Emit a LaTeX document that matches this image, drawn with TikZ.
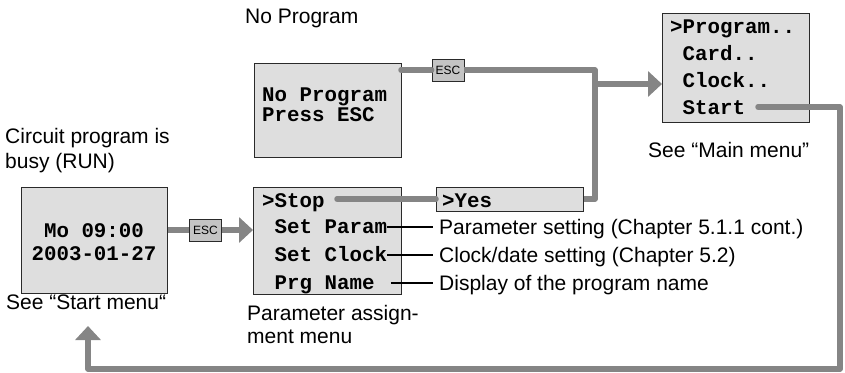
\documentclass[tikz,border=0pt]{standalone}
\usepackage{fontspec}
\setmainfont{Liberation Sans}
\setmonofont{Liberation Mono}
\usetikzlibrary{arrows.meta}
\definecolor{lcdfill}{HTML}{DEDEDE}
\definecolor{escfill}{HTML}{C4C4C4}
\definecolor{pipe}{HTML}{858585}
\definecolor{frame}{HTML}{2A2A2A}
\begin{document}
\begin{tikzpicture}[x=1pt,y=-1pt,
  lcdbox/.style={draw=frame, fill=lcdfill, line width=1pt, anchor=north west, inner sep=0pt},
  mono/.style={font=\fontsize{20.8}{24}\selectfont\ttfamily\bfseries, inner sep=0pt, anchor=base west},
  lbl/.style={font=\fontsize{21}{24}\selectfont, inner sep=0pt, anchor=base west},
  escbox/.style={draw=frame, fill=escfill, line width=0.8pt, minimum width=32pt, minimum height=22pt, inner sep=0pt, font=\fontsize{12}{12}\selectfont},
  gline/.style={draw=pipe, line width=5.5pt, line join=round},
  rcap/.style={line cap=round},
  garrow/.style={-{Triangle[width=25pt,length=14pt]}},
  thinline/.style={draw=black, line width=1.5pt}]
\useasboundingbox (0,0) rectangle (845,372);

% boxes
\node[lcdbox, minimum width=146pt, minimum height=106pt] (run) at (21,187) {};
\node[lcdbox, minimum width=147pt, minimum height=94pt] (nop) at (254,63) {};
\node[lcdbox, minimum width=148pt, minimum height=107pt] (par) at (253,187) {};
\node[lcdbox, minimum width=147pt, minimum height=24pt] (yes) at (436,187) {};
\node[lcdbox, minimum width=147pt, minimum height=109pt] (mm) at (662,13) {};
\node[escbox] (esc1) at (205.5,230) {ESC};
\node[escbox] (esc2) at (448,70) {ESC};

% box texts
\node[mono, anchor=base] (runA) at (94,237) {Mo 09:00};
\node[mono, anchor=base] (runB) at (94,260) {2003-01-27};
\node[mono] (nopA) at (262,101) {No Program};
\node[mono] (nopB) at (262,121.5) {Press ESC};
\node[mono] (stop) at (262,207) {>Stop};
\node[mono] (sp) at (274.5,233) {Set Param};
\node[mono] (sc) at (274.5,261) {Set Clock};
\node[mono] (pn) at (274.5,289) {Prg Name};
\node[mono] (yest) at (442,207) {>Yes};
\node[mono] (mA) at (670,33) {>Program..};
\node[mono] (mB) at (682.5,60) {Card..};
\node[mono] (mC) at (682.5,87) {Clock..};
\node[mono] (start) at (682.5,114) {Start};

% labels
\node[lbl] (lnop) at (245,23) {No Program};
\node[lbl] (lc1) at (5,143) {Circuit program is};
\node[lbl] (lc2) at (5,168) {busy (RUN)};
\node[lbl] (lsm) at (6,309) {See “Start menu“};
\node[lbl] (lpa1) at (247,320) {Parameter assign-};
\node[lbl] (lpa2) at (247,343) {ment menu};
\node[lbl] (lmm) at (648,157) {See “Main menu”};
\node[lbl] (lp) at (439,234) {Parameter setting (Chapter 5.1.1 cont.)};
\node[lbl] (lcl) at (439,262) {Clock/date setting (Chapter 5.2)};
\node[lbl] (ldp) at (439,290) {Display of the program name};

% coordinates for bends
\coordinate (j1) at (595,70);
\coordinate (j2) at (595,199);
\coordinate (j3) at (595,84);
\coordinate (s0) at (758,107);
\coordinate (c1) at (840,107);
\coordinate (c2) at (840,369);
\coordinate (c3) at (88,369);
\coordinate (c4) at (88,326);
\coordinate (t0) at (337,199);
\coordinate (n0) at (401,70);

% gray connectors
\draw[gline] (run.east |- esc1.west) -- (esc1.west);
\draw[gline, garrow] (esc1.east) -- (par.west |- esc1.east);
\draw[gline, rcap] (n0) -- (esc2.west);
\draw[gline] (esc2.east) -- (j1) -- (j2) -- (yes.east |- j2);
\draw[gline, garrow] (j3) -- (mm.west |- j3);
\draw[gline, rcap] (t0) -- (yes.west |- t0);
\draw[gline, rcap, garrow] (s0) -- (c1) -- (c2) -- (c3) -- (c4);

% thin black leaders
\draw[thinline] (sp.east |- 0,227) -- ([xshift=-6pt]lp.west |- 0,227);
\draw[thinline] (sc.east |- 0,255) -- ([xshift=-6pt]lcl.west |- 0,255);
\draw[thinline] ([xshift=16pt]pn.east |- 0,283) -- ([xshift=-6pt]ldp.west |- 0,283);
\end{tikzpicture}
\end{document}
